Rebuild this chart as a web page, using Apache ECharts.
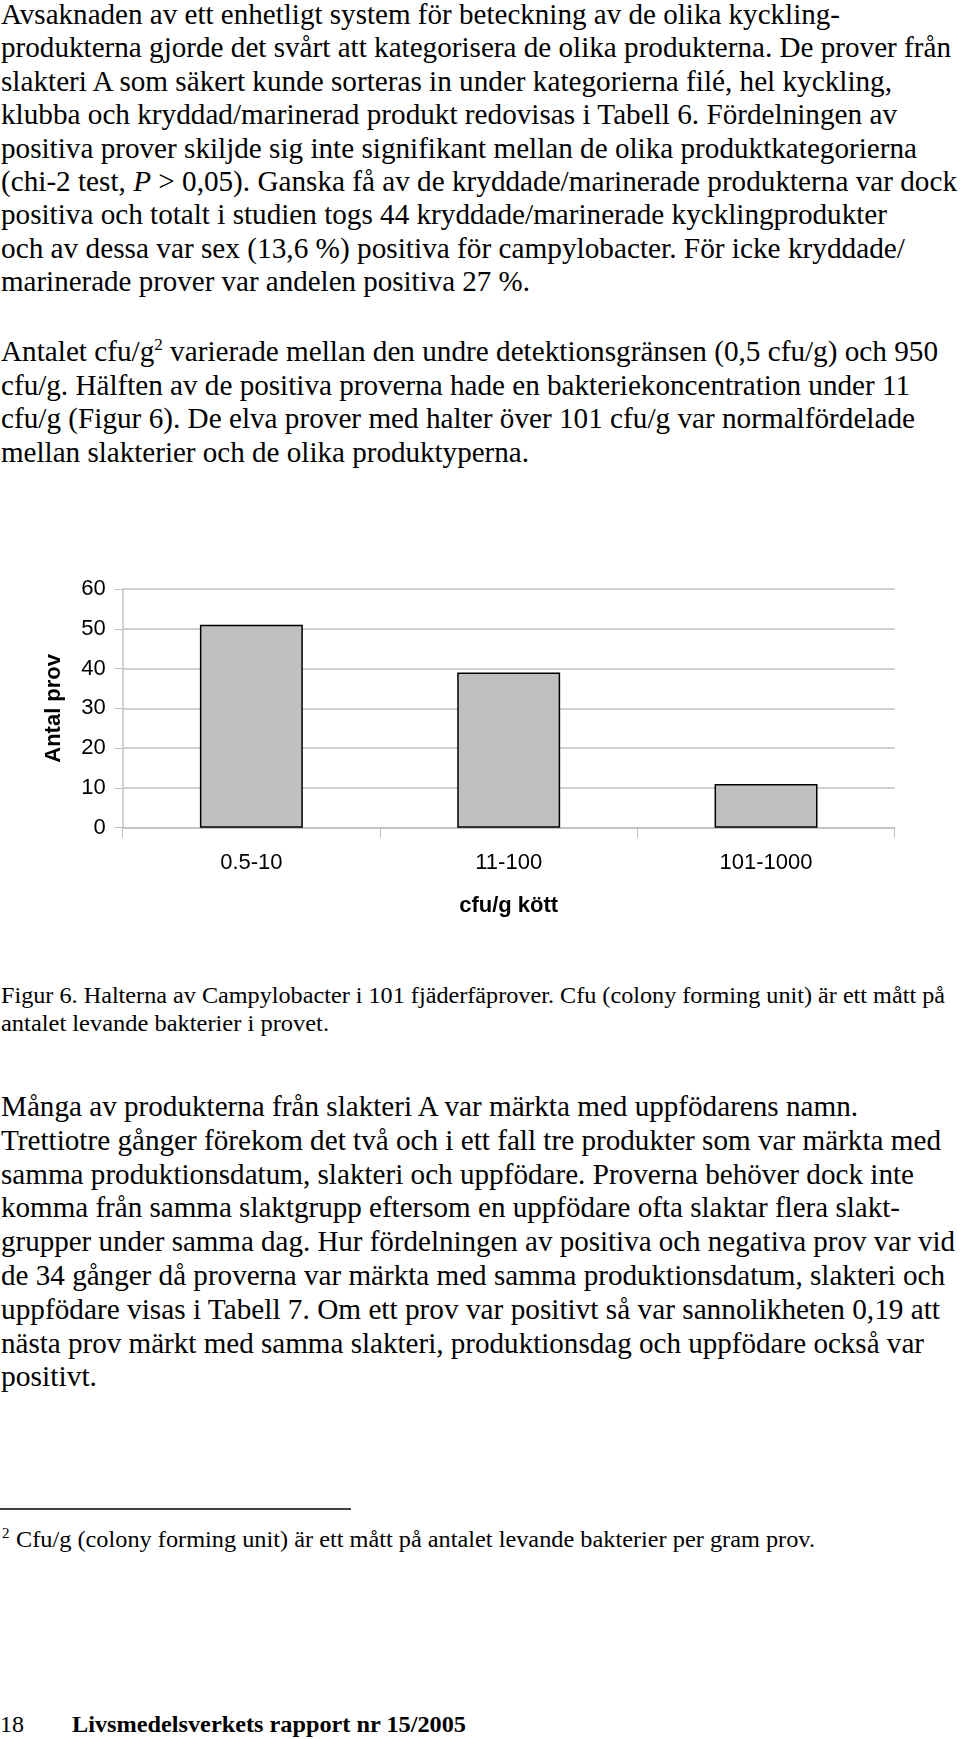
<!DOCTYPE html>
<html>
<head>
<meta charset="utf-8">
<script src="https://cdn.jsdelivr.net/npm/echarts@6/dist/echarts.min.js"></script>
<style>
  html, body { margin: 0; padding: 0; background: #fff; }
  #page { position: relative; width: 960px; height: 1739px; overflow: hidden; background: #fff; }
  #txt { position: absolute; left: 0; top: 0; font-family: "Liberation Serif", "Times New Roman", Times, serif; }
  #txt text { fill: #000; font-family: "Liberation Serif", "Times New Roman", Times, serif; }
  #chart { position: absolute; left: 0; top: 540px; width: 960px; height: 400px; }
</style>
</head>
<body>
<div id="page">
  <svg id="txt" width="960" height="1739" xmlns="http://www.w3.org/2000/svg"></svg>
  <div id="chart"></div>
</div>
<script>
// ---- chart data ----
const categories = ['0.5-10', '11-100', '101-1000'];
const counts = [51, 39, 11];
const yAxisName = 'Antal prov';
const xAxisName = 'cfu/g kött';
const yMin = 0, yMax = 60, yStep = 10;

// ---- page text (line by line, as in the document) ----
const para1 = [
  'Avsaknaden av ett enhetligt system för beteckning av de olika kyckling-',
  'produkterna gjorde det svårt att kategorisera de olika produkterna. De prover från',
  'slakteri A som säkert kunde sorteras in under kategorierna filé, hel kyckling,',
  'klubba och kryddad/marinerad produkt redovisas i Tabell 6. Fördelningen av',
  'positiva prover skiljde sig inte signifikant mellan de olika produktkategorierna',
  '(chi-2 test, <tspan font-style="italic">P</tspan> &gt; 0,05). Ganska få av de kryddade/marinerade produkterna var dock',
  'positiva och totalt i studien togs 44 kryddade/marinerade kycklingprodukter',
  'och av dessa var sex (13,6 %) positiva för campylobacter. För icke kryddade/',
  'marinerade prover var andelen positiva 27 %.'
];
const para1W = [840, 951, 892, 897, 917, 957, 887, 905, 530];
const para2 = [
  'Antalet cfu/g<tspan dy="-11" style="font-size:17px">2</tspan><tspan dy="11"> varierade mellan den undre detektionsgränsen (0,5 cfu/g) och 950</tspan>',
  'cfu/g. Hälften av de positiva proverna hade en bakteriekoncentration under 11',
  'cfu/g (Figur 6). De elva prover med halter över 101 cfu/g var normalfördelade',
  'mellan slakterier och de olika produktyperna.'
];
const para2W = [938, 910, 915, 529];
const caption = [
  'Figur 6. Halterna av Campylobacter i 101 fjäderfäprover. Cfu (colony forming unit) är ett mått på',
  'antalet levande bakterier i provet.'
];
const captionW = [945, 329];
const para3 = [
  'Många av produkterna från slakteri A var märkta med uppfödarens namn.',
  'Trettiotre gånger förekom det två och i ett fall tre produkter som var märkta med',
  'samma produktionsdatum, slakteri och uppfödare. Proverna behöver dock inte',
  'komma från samma slaktgrupp eftersom en uppfödare ofta slaktar flera slakt-',
  'grupper under samma dag. Hur fördelningen av positiva och negativa prov var vid',
  'de 34 gånger då proverna var märkta med samma produktionsdatum, slakteri och',
  'uppfödare visas i Tabell 7. Om ett prov var positivt så var sannolikheten 0,19 att',
  'nästa prov märkt med samma slakteri, produktionsdag och uppfödare också var',
  'positivt.'
];
const para3W = [858, 941, 914, 900, 955, 945, 940, 924, 97];
const footnote = 'Cfu/g (colony forming unit) är ett mått på antalet levande bakterier per gram prov.';
const footerNum = '18';
const footerTitle = 'Livsmedelsverkets rapport nr 15/2005';

// ---- build SVG text ----
const svg = document.getElementById('txt');
let html = '';
function lines(arr, widths, y0, dy, size, x) {
  arr.forEach((s, i) => {
    html += `<text x="${x}" y="${(y0 + i * dy).toFixed(1)}" style="font-size:${size}px" textLength="${widths[i] - x}" lengthAdjust="spacingAndGlyphs">${s}</text>`;
  });
}
lines(para1, para1W, 24, 33.4, 29, 1);
lines(para2, para2W, 361, 33.5, 29, 1);
lines(caption, captionW, 1003, 28, 24, 1);
lines(para3, para3W, 1116, 33.8, 29, 1);
// footnote rule & text
html += `<line x1="0" y1="1509" x2="351" y2="1509" stroke="#000" stroke-width="1.5"/>`;
html += `<text x="2" y="1538" style="font-size:15px">2</text>`;
html += `<text x="16" y="1547" style="font-size:24px" textLength="799" lengthAdjust="spacingAndGlyphs">${footnote}</text>`;
// footer
html += `<text x="0" y="1732" style="font-size:24px">${footerNum}</text>`;
html += `<text x="72" y="1732" style="font-size:24px;font-weight:bold" textLength="394" lengthAdjust="spacingAndGlyphs">${footerTitle}</text>`;
svg.innerHTML = html;

// ---- chart ----
const chart = echarts.init(document.getElementById('chart'), null, { renderer: 'canvas' });
const SANS = "'Liberation Sans', Arial, sans-serif";
const gridCol = '#c0c0c0';
chart.setOption({
  animation: false,
  backgroundColor: 'transparent',
  grid: { left: 122.7, right: 65.3, top: 49, bottom: 112.3, containLabel: false },
  xAxis: {
    type: 'category',
    data: categories,
    name: xAxisName,
    nameLocation: 'middle',
    nameGap: 67,
    nameTextStyle: { fontFamily: SANS, fontSize: 22, fontWeight: 'bold', color: '#000' },
    axisLine: { show: true, lineStyle: { color: gridCol, width: 1.5 } },
    axisTick: { show: true, length: 10, lineStyle: { color: gridCol, width: 1 } },
    axisLabel: { fontFamily: SANS, fontSize: 22, color: '#000', margin: 24 },
    splitLine: { show: false }
  },
  yAxis: {
    type: 'value',
    min: yMin, max: yMax, interval: yStep,
    name: yAxisName,
    nameLocation: 'middle',
    nameRotate: 90,
    nameGap: 58,
    nameTextStyle: { fontFamily: SANS, fontSize: 22, fontWeight: 'bold', color: '#000' },
    axisLine: { show: true, lineStyle: { color: gridCol, width: 1.5 } },
    axisTick: { show: true, length: 8, lineStyle: { color: gridCol, width: 1 } },
    axisLabel: { fontFamily: SANS, fontSize: 22, color: '#000', margin: 17 },
    splitLine: { show: true, lineStyle: { color: gridCol, width: 1.5 } }
  },
  series: [{
    type: 'bar',
    data: counts,
    barWidth: '40%',
    itemStyle: { color: '#c0c0c0', borderColor: '#000', borderWidth: 1.5 }
  }]
});
</script>
</body>
</html>
